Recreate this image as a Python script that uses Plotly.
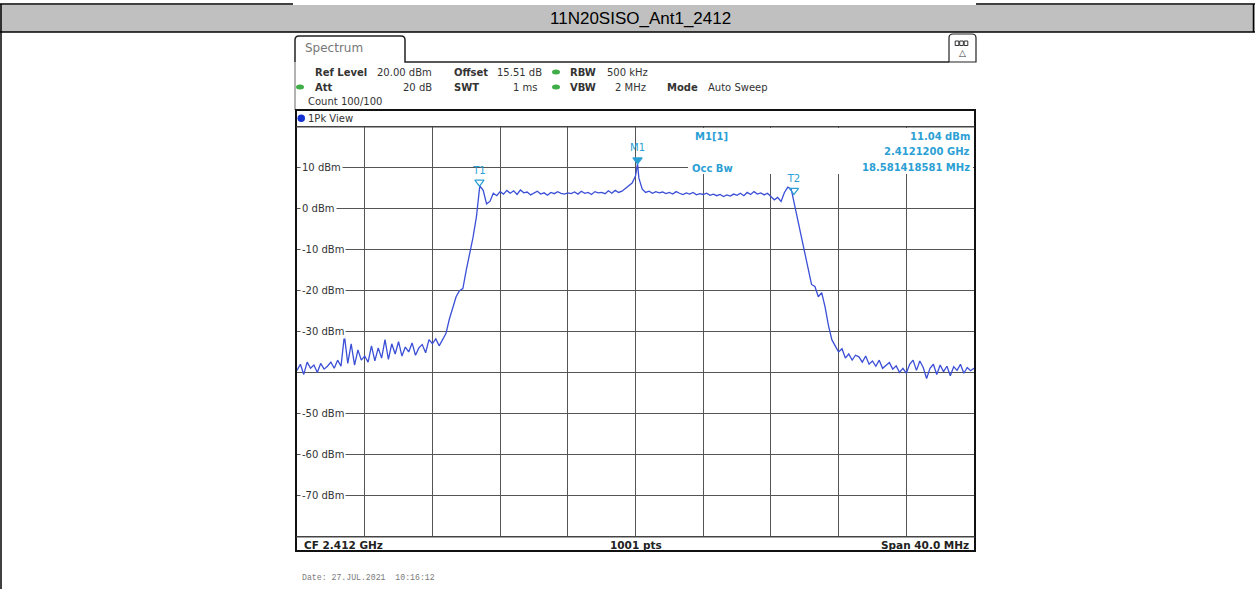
import numpy as np
import plotly.graph_objects as go

# ---------------- data ----------------
center_ghz = 2.412
span_mhz = 40.0
n_samples = 201  # display samples across the span

# measured level (dBm) per sample, left to right, 0.2 MHz apart
level_dbm = [
    -39.5, -38.0, -40.5, -37.5, -39.0, -38.2, -40.0, -37.8, -39.2, -38.5,
    -37.5, -39.0, -37.0, -38.5, -31.0, -37.8, -33.0, -38.2, -34.5, -37.0,
    -36.0, -37.5, -33.5, -37.2, -34.0, -36.5, -32.0, -36.8, -33.0, -35.5,
    -32.5, -36.0, -33.8, -35.0, -32.8, -35.8, -34.0, -33.2, -35.2, -32.0,
    -33.0, -31.8, -33.5, -32.0, -30.5, -27.0, -24.0, -21.5, -20.0, -19.5,
    -15.0, -11.0, -7.0, -2.0, 5.6, 4.5, 1.2, 1.8, 3.8, 3.2,
    4.2, 3.6, 4.5, 3.8, 4.4, 3.5, 4.6, 3.9, 4.1, 3.4,
    3.8, 4.3, 3.6, 3.9, 3.3, 4.0, 3.7, 4.2, 3.8, 3.6,
    3.9, 3.7, 4.1, 3.6, 4.3, 3.8, 4.0, 3.5, 4.2, 3.9,
    4.0, 3.7, 4.4, 3.8, 4.5, 4.0, 4.3, 4.9, 5.5, 6.3,
    8.0, 7.5, 4.8, 4.0, 4.3, 3.8, 4.2, 3.9, 4.1, 3.7,
    4.0, 3.6, 4.2, 3.8, 3.5, 3.9, 3.6, 4.0, 3.4, 3.7,
    3.5, 3.8, 3.3, 3.6, 3.2, 3.5, 3.0, 3.4, 3.1, 3.6,
    3.3, 3.8, 3.2, 4.0, 3.5, 4.2, 3.6, 3.9, 3.4, 3.8,
    3.0, 2.2, 2.8, 1.8, 4.0, 5.3, 4.8, 1.0, -3.0, -6.5,
    -11.0, -14.0, -18.5, -19.0, -21.5, -20.5, -24.0, -28.5, -32.0, -33.5,
    -35.0, -34.2, -36.5, -35.5, -37.0, -35.8, -36.2, -37.5, -36.0, -38.0,
    -37.2, -38.5, -37.0, -39.0, -38.2, -37.6, -39.2, -38.4, -40.0, -39.0,
    -40.2, -38.0, -37.0, -39.5, -37.2, -38.8, -41.5, -39.0, -38.0, -40.5,
    -38.2, -39.8, -38.5, -40.8, -38.6, -39.5, -38.0, -40.2, -38.8, -39.6, -39.0,
]

# markers: name, frequency (GHz), level (dBm)
marker_names = ["T1", "M1", "T2"]
occ_bw_mhz = 18.581418581
marker_freq_ghz = [2.402780, 2.4121200, 2.402780 + occ_bw_mhz / 1000.0]
marker_level_dbm = [5.6, 11.04, 3.6]

y_tick_values = [10, 0, -10, -20, -30, -50, -60, -70]
y_tick_labels = ["10 dBm", "0 dBm", "-10 dBm", "-20 dBm", "-30 dBm",
                 "-50 dBm", "-60 dBm", "-70 dBm"]

title_text = "11N20SISO_Ant1_2412"
date_text = "Date: 27.JUL.2021  10:16:12"

# ---------------- geometry helpers ----------------
W_PX, H_PX = 1255, 589
PL, PR, PT, PB = 297, 974, 127, 536       # plot area in page pixels
PW, PH = PR - PL, PB - PT


def px(x):
    return (x - PL) / PW


def py(y):
    return (PB - y) / PH


f_start = center_ghz - span_mhz / 2000.0
f_stop = center_ghz + span_mhz / 2000.0
freq_ghz = np.linspace(f_start, f_stop, n_samples)

# merge the marker M1 sample into the sweep so the peak sits on it
fx = list(freq_ghz)
fy = list(level_dbm)
fx.append(marker_freq_ghz[1])
fy.append(marker_level_dbm[1])
order = np.argsort(fx)
fx = np.array(fx)[order]
fy = np.array(fy)[order]

TRACE = "#3a4fd6"
CYAN = "#2b9fd4"
TXT = "#333333"
GRID = "#555555"

fig = go.Figure()
fig.add_trace(go.Scatter(x=fx, y=fy, mode="lines",
                         line=dict(color=TRACE, width=1.3),
                         hoverinfo="skip", showlegend=False))

# T markers open, M marker filled
for name, fq, lv in zip(marker_names, marker_freq_ghz, marker_level_dbm):
    is_t = name.startswith("T")
    fig.add_trace(go.Scatter(
        x=[fq], y=[lv + 0.9], mode="markers+text",
        marker=dict(symbol="triangle-down-open" if is_t else "triangle-down",
                    size=8, color=CYAN, line=dict(color=CYAN, width=1.2)),
        text=[name], textposition="top center",
        textfont=dict(family="DejaVu Sans", size=10, color=CYAN),
        hoverinfo="skip", showlegend=False, cliponaxis=False))

shapes = []
ann = []


def line(x0, y0, x1, y1, color="black", width=1):
    shapes.append(dict(type="line", xref="paper", yref="paper",
                       x0=px(x0), y0=py(y0), x1=px(x1), y1=py(y1),
                       line=dict(color=color, width=width)))


def rect(x0, y0, x1, y1, fill=None, color=None, width=1, layer="above"):
    shapes.append(dict(type="rect", xref="paper", yref="paper", layer=layer,
                       x0=px(x0), y0=py(y0), x1=px(x1), y1=py(y1),
                       fillcolor=fill if fill else "rgba(0,0,0,0)",
                       line=dict(color=color if color else "rgba(0,0,0,0)",
                                 width=width)))


def text(x, y, s, size=10, color=TXT, anchor="left", bold=False,
         family="DejaVu Sans", bg=None):
    if bold:
        s = "<b>" + s + "</b>"
    a = dict(xref="paper", yref="paper", x=px(x), y=py(y), text=s,
             showarrow=False, xanchor=anchor, yanchor="middle",
             font=dict(family=family, size=size, color=color))
    if bg:
        a.update(bgcolor=bg, borderpad=0)
    ann.append(a)


# ---- title band ----
rect(0, 5, 1255, 32, fill="#c0c0c0", layer="below")
line(0, 4, 293, 4, width=1.5)
line(976, 4, 1255, 4, width=1.5)
line(0, 32, 1255, 32, width=1.5)
line(1, 4, 1, 589, width=1.5)
line(1253.5, 4, 1253.5, 32, width=1.5)
text(640, 19, title_text, size=17, color="black", anchor="center",
     family="Liberation Sans")

# ---- tab and instrument header ----
shapes.append(dict(
    type="path", xref="paper", yref="paper",
    path=("M {a},{b} L {a},{c} Q {a},{d} {e},{d} L {f},{d} Q {g},{d} {g},{c} "
          "L {g},{b} L {h},{b}").format(
        a=px(295), b=py(62), c=py(40), d=py(36), e=px(299), f=px(401),
        g=px(405), h=px(949)),
    line=dict(color="#222222", width=1.5)))
line(295, 62, 295, 110, color="#666666", width=1)
shapes.append(dict(
    type="path", xref="paper", yref="paper",
    path=("M {a},{b} L {a},{c} Q {a},{d} {e},{d} L {f},{d} Q {g},{d} {g},{c} "
          "L {g},{b} Z").format(
        a=px(949), b=py(62), c=py(38), d=py(34), e=px(953), f=px(972),
        g=px(976)),
    line=dict(color="#222222", width=1.2), fillcolor="white"))
# small three-cell icon with a triangle under it
for cx in (957, 961.5, 966):
    rect(cx - 1.8, 41, cx + 1.8, 45.5, fill="white", color="#333333", width=1)
text(962, 53, "\u25b3", size=9, color="#333333", anchor="center")
text(303, 48, "Spectrum", size=12, color="#777777")

GREEN = "#3fae49"


def green_dot(x, y):
    shapes.append(dict(type="circle", xref="paper", yref="paper",
                       x0=px(x - 4), x1=px(x + 4), y0=py(y + 2.5),
                       y1=py(y - 2.5), fillcolor=GREEN,
                       line=dict(color=GREEN, width=0)))


text(313, 72, "Ref Level", bold=True)
text(375, 72, "20.00 dBm")
text(452, 72, "Offset", bold=True)
text(495, 72, "15.51 dB")
green_dot(556, 72)
text(568, 72, "RBW", bold=True)
text(605, 72, "500 kHz")
green_dot(300, 87)
text(313, 87, "Att", bold=True)
text(434, 87, "20 dB", anchor="right")
text(452, 87, "SWT", bold=True)
text(540, 87, "1 ms", anchor="right")
green_dot(556, 87)
text(568, 87, "VBW", bold=True)
text(648, 87, "2 MHz", anchor="right")
text(665, 87, "Mode", bold=True)
text(706, 87, "Auto Sweep")
text(306, 101, "Count 100/100")

# ---- diagram frame ----
rect(296, 110, 975, 551, color="#111111", width=2)
line(296, 127, 975, 127, color="#444444", width=1)
shapes.append(dict(type="circle", xref="paper", yref="paper",
                   x0=px(297.5), x1=px(305), y0=py(114.5), y1=py(122),
                   fillcolor="#1530d0", line=dict(color="#1530d0", width=0)))
text(306, 118, "1Pk View")

# marker readout panel
rect(688, 128, 973, 174, fill="white")
text(693, 136, "M1[1]", color=CYAN, bold=True)
text(690, 168, "Occ Bw", color=CYAN, bold=True)
readout = ["{:.2f} dBm".format(marker_level_dbm[1]),
           "{:.7f} GHz".format(marker_freq_ghz[1]),
           "{} MHz".format(occ_bw_mhz)]
for i, s in enumerate(readout):
    text(972, 136 + 15.5 * i, s, color=CYAN, anchor="right", bold=True)

# level labels
for v, lab in zip(y_tick_values, y_tick_labels):
    ann.append(dict(xref="paper", yref="y", x=px(299.5), y=v, text=lab,
                    showarrow=False, xanchor="left", yanchor="middle",
                    bgcolor="white", borderpad=1,
                    font=dict(family="DejaVu Sans", size=10, color=TXT)))

# status bar
line(296, 537, 975, 537, color="#444444", width=1)
text(302, 545, "CF {} GHz".format(center_ghz), bold=True, size=10.5,
     color="#222222")
text(636, 545, "{} pts".format(1001), bold=True, size=10.5,
     color="#222222", anchor="center")
text(971, 545, "Span {:.1f} MHz".format(span_mhz), bold=True, size=10.5,
     color="#222222", anchor="right")

text(300, 577, date_text, size=8.2, color="#7a7a7a", family="Liberation Mono")

fig.update_layout(
    width=W_PX, height=H_PX,
    margin=dict(l=PL, r=W_PX - PR, t=PT, b=H_PX - PB, pad=0),
    paper_bgcolor="white", plot_bgcolor="white",
    shapes=shapes, annotations=ann,
    xaxis=dict(range=[f_start, f_stop], tick0=f_start, dtick=span_mhz / 10000.0,
               showgrid=True, gridcolor=GRID, gridwidth=1.3,
               showticklabels=False, zeroline=False, showline=True,
               mirror=True, linecolor="#444444", linewidth=1, ticks=""),
    yaxis=dict(range=[-80, 20], tick0=-80, dtick=10,
               showgrid=True, gridcolor=GRID, gridwidth=1.3,
               showticklabels=False, zeroline=False, showline=True,
               mirror=True, linecolor="#444444", linewidth=1, ticks=""),
)

fig.write_html("out.html")
